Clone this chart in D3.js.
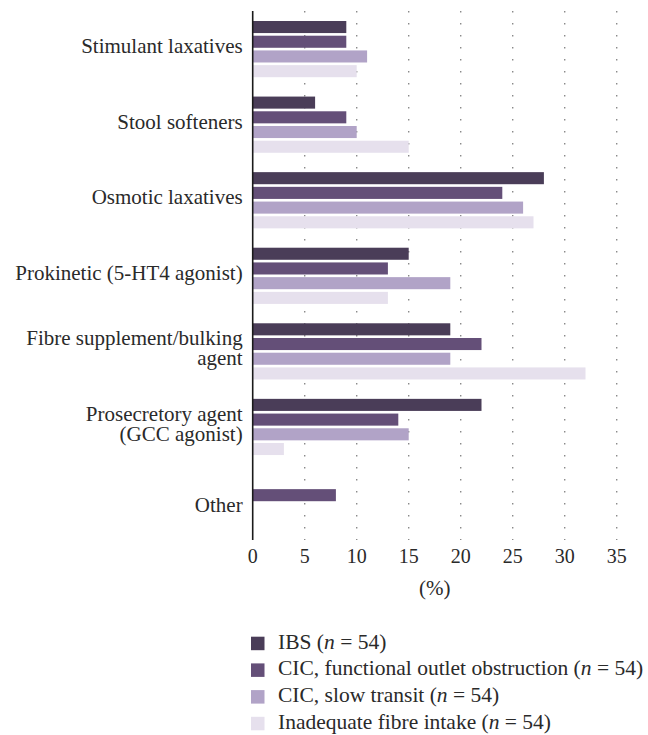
<!DOCTYPE html>
<html>
<head>
<meta charset="utf-8">
<script src="https://cdn.jsdelivr.net/npm/d3@7"></script>
<style>
    body { margin: 0; background: #fff; }
    svg text { font-family: "Liberation Serif", "DejaVu Serif", serif; fill: #2a2a2a; }
</style>
</head>
<body>
<svg id="chart" width="648" height="735"></svg>
<script>
// categories (top to bottom), each label split into lines
var categories = [
    ["Stimulant laxatives"],
    ["Stool softeners"],
    ["Osmotic laxatives"],
    ["Prokinetic (5-HT4 agonist)"],
    ["Fibre supplement/bulking", "agent"],
    ["Prosecretory agent", "(GCC agonist)"],
    ["Other"]
];
var series = ["IBS", "CIC, functional outlet obstruction", "CIC, slow transit", "Inadequate fibre intake"];
var seriesN = [54, 54, 54, 54];
var colors = ["#4a3d58", "#644f78", "#b1a3c7", "#e6e0ed"];

// percentages per series, same order as categories
var ibs = [9, 6, 28, 15, 19, 22, 0];
var cicFoo = [9, 9, 24, 13, 22, 14, 8];
var cicSlow = [11, 10, 26, 19, 19, 15, 0];
var fibreLow = [10, 15, 27, 13, 32, 3, 0];
var values = [ibs, cicFoo, cicSlow, fibreLow];

var xTicks = [0, 5, 10, 15, 20, 25, 30, 35];

var svg = d3.select("#chart");
var plotLeft = 252.7, plotRight = 616.7, plotTop = 11, plotBottom = 540;

var x = d3.scaleLinear().domain([0, 35]).range([plotLeft, plotRight]);
var y0 = d3.scaleBand().domain(d3.range(categories.length)).range([plotTop, plotBottom]);
var y1 = d3.scaleBand().domain(d3.range(series.length)).range([10, 66.2]).paddingInner(0.18);

// dotted grid
svg.append("g").selectAll("line")
    .data(xTicks.slice(1))
    .enter().append("line")
    .attr("x1", function(d) { return x(d); })
    .attr("x2", function(d) { return x(d); })
    .attr("y1", plotTop)
    .attr("y2", plotBottom)
    .attr("stroke", "#8a8a8a")
    .attr("stroke-width", 1.4)
    .attr("stroke-dasharray", "1.4,10.6");

// bars
var groups = svg.append("g").selectAll("g")
    .data(categories)
    .enter().append("g")
    .attr("transform", function(d, i) { return "translate(0," + y0(i) + ")"; });

groups.selectAll("rect")
    .data(function(d, i) { return values.map(function(s, j) { return {s: j, v: s[i]}; }); })
    .enter().append("rect")
    .filter(function(d) { return d.v > 0; })
    .attr("x", x(0))
    .attr("y", function(d) { return y1(d.s); })
    .attr("width", function(d) { return x(d.v) - x(0); })
    .attr("height", y1.bandwidth())
    .attr("fill", function(d) { return colors[d.s]; });

// category labels
groups.append("text")
    .attr("text-anchor", "end")
    .attr("font-size", 21)
    .each(function(d, i) {
        var t = d3.select(this);
        var mid = y0.bandwidth() / 2;
        var start = d.length > 1 ? mid - 6 : mid + 4.5;
        if (i == categories.length - 1) start += 5; // "Other" sits a bit lower
        d.forEach(function(line, k) {
            t.append("tspan").attr("x", plotLeft - 10).attr("y", start + k * 20).text(line);
        });
    });

// axis line
svg.append("line")
    .attr("x1", plotLeft).attr("x2", plotLeft)
    .attr("y1", plotTop).attr("y2", plotBottom)
    .attr("stroke", "#1a1a1a").attr("stroke-width", 1.6);

// x tick labels
svg.append("g").selectAll("text")
    .data(xTicks)
    .enter().append("text")
    .attr("x", function(d) { return x(d); })
    .attr("y", 563)
    .attr("text-anchor", "middle")
    .attr("font-size", 20)
    .text(function(d) { return d; });

svg.append("text")
    .attr("x", x(17.5))
    .attr("y", 595)
    .attr("text-anchor", "middle")
    .attr("font-size", 21)
    .text("(%)");

// legend
var legend = svg.append("g").selectAll("g")
    .data(series)
    .enter().append("g")
    .attr("transform", function(d, i) { return "translate(251," + (636.7 + i * 26.7) + ")"; });

legend.append("rect")
    .attr("width", 13.5).attr("height", 13.5)
    .attr("fill", function(d, i) { return colors[i]; });

var lt = legend.append("text")
    .attr("x", 27)
    .attr("y", 12)
    .attr("font-size", 21.5);
lt.append("tspan").text(function(d) { return d + " ("; });
lt.append("tspan").attr("font-style", "italic").text("n");
lt.append("tspan").text(function(d, i) { return " = " + seriesN[i] + ")"; });
</script>
</body>
</html>
